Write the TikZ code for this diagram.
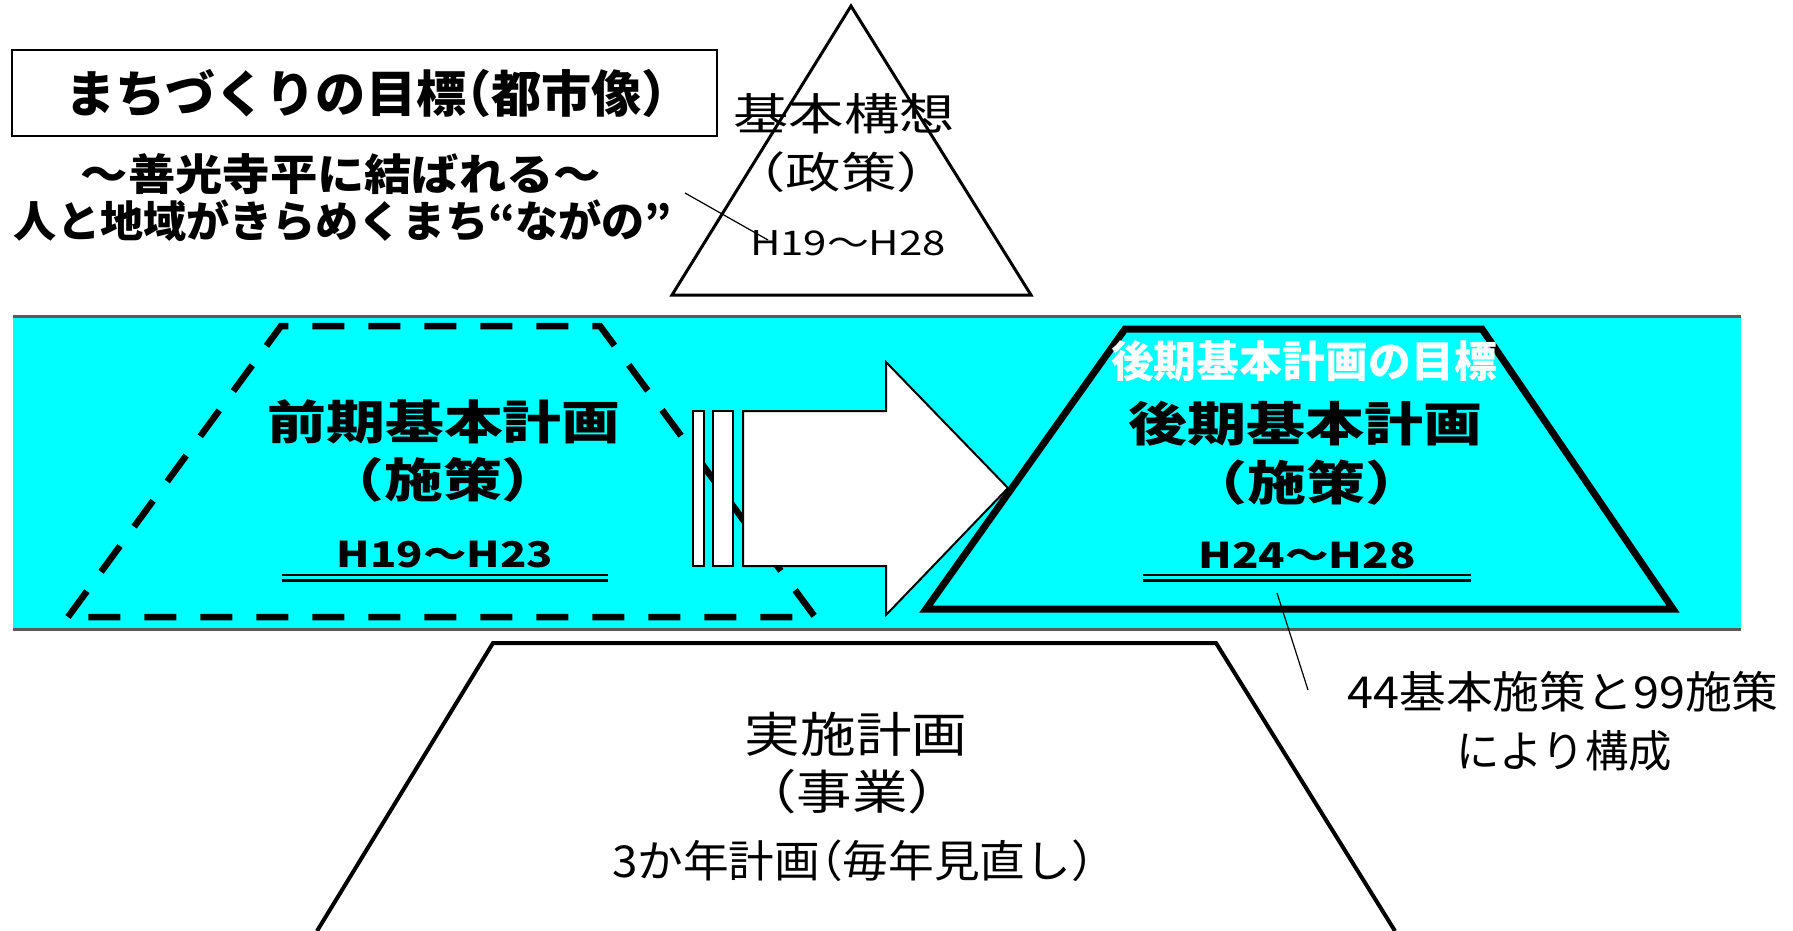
\documentclass[tikz,border=0pt]{standalone}
\usepackage{fontspec}
\setmainfont{Noto Sans CJK JP}
\definecolor{bandc}{RGB}{0,255,255}
\definecolor{bordc}{RGB}{90,90,90}
\newcommand{\tsc}[3]{\fontsize{#1}{#1}\selectfont\scalebox{#2}[1]{#3}}
\newcommand{\tfw}[3]{\fontsize{#1}{#1}\selectfont\resizebox{#2pt}{\height}{#3}}
\newcommand{\lpar}{\kern-.5em（}
\newcommand{\rpar}{）\kern-.5em}
\tikzset{
  txt/.style={inner sep=0pt, outer sep=0pt, anchor=center},
  thinline/.style={line width=1.2pt, black},
  bandline/.style={line width=2.5pt, bordc},
  dashtrap/.style={line width=6.5pt, dash pattern=on 32pt off 24pt, line join=miter},
  boldtrap/.style={line width=7pt, line join=miter},
  whitebox/.style={draw=black, fill=white, line width=2pt},
  dblline/.style={line width=2.5pt}
}
\begin{document}
\begin{tikzpicture}[x=1pt, y=-1pt]
\useasboundingbox (0,0) rectangle (1793,930);

% --- top title box ---
\draw[line width=2pt] (12,50) rectangle (717,136);
\node[txt, font=\bfseries] (title) at (366,93) {\tfw{50}{602}{まちづくりの目標\lpar 都市像\rpar}};
\node[txt, font=\bfseries] (sub1) at (341,174) {\tsc{43}{1.10}{～善光寺平に結ばれる～}};
\node[txt, font=\bfseries] (sub2) at (343,221) {\tfw{43}{658}{人と地域がきらめくまち“ながの”}};

% --- triangle (basic concept) ---
\draw[line width=3pt, line join=miter] (851,6) -- (1031,295) -- (672,295) -- cycle;
\node[txt] (kihon) at (844,114) {\tsc{44}{1.26}{基本構想}};
\node[txt] (seisaku) at (841,172) {\tsc{43}{1.29}{（政策）}};
\node[txt] (h1928) at (848,243) {\tfw{34}{196}{H19～H28}};
\coordinate (c1a) at (685,193);
\coordinate (c1b) at (768,240);
\draw[thinline] (c1a) -- (c1b);

% --- cyan band ---
\fill[bandc] (13,317) rectangle (1741,629);
\draw[bandline] (13,316.5) -- (1741,316.5);
\draw[bandline] (13,629.5) -- (1741,629.5);

% --- dashed trapezoid (first plan) ---
\draw[dashtrap] (68,617) -- (281,326) -- (600,326) -- (815,617) -- cycle;

% --- bold trapezoid (second plan) ---
\draw[boldtrap] (926,609) -- (1125,329) -- (1482,329) -- (1673,609) -- cycle;

% --- bars and arrow ---
\draw[whitebox] (693,411) rectangle (704,566);
\draw[whitebox] (713,411) rectangle (733,566);
\draw[whitebox, line join=miter] (743,411) -- (886,411) -- (886,362) -- (1008,488) -- (886,615) -- (886,566) -- (743,566) -- cycle;

% --- first plan texts ---
\node[txt, font=\bfseries] (zenki) at (444,422) {\tfw{46.5}{353}{前期基本計画}};
\node[txt, font=\bfseries] (shisaku1) at (443,480) {\tsc{46.5}{1.265}{（施策）}};
\node[txt, font=\bfseries] (h1923) at (445,555) {\tfw{35.5}{216}{H19～H23}};
\draw[dblline] (282,575) -- (608,575);
\draw[dblline] (282,580.5) -- (608,580.5);

% --- second plan texts ---
\node[txt, font=\bfseries, text=white] (goal) at (1304,361) {\tfw{43}{386}{後期基本計画の目標}};
\node[txt, font=\bfseries] (kouki) at (1305,424) {\tfw{47}{354}{後期基本計画}};
\node[txt, font=\bfseries] (shisaku2) at (1306,483) {\tsc{47}{1.255}{（施策）}};
\node[txt, font=\bfseries] (h2428) at (1307,556) {\tfw{35.5}{217}{H24～H28}};
\draw[dblline] (1143,575) -- (1471,575);
\draw[dblline] (1143,580.5) -- (1471,580.5);

% --- callout ---
\coordinate (c2a) at (1277,593);
\coordinate (c2b) at (1308,690);
\draw[thinline] (c2a) -- (c2b);
\node[txt] (note1) at (1563,692) {\tfw{44}{431}{44基本施策と99施策}};
\node[txt] (note2) at (1564,751) {\tfw{44}{216}{により構成}};

% --- bottom trapezoid (implementation) ---
\draw[line width=4pt, line join=miter] (317,931) -- (493,643) -- (1216,643) -- (1395,931);
\node[txt] (jisshi) at (856,734) {\tsc{48}{1.16}{実施計画}};
\node[txt] (jigyo) at (852,792) {\tsc{47}{1.18}{（事業）}};
\node[txt] (sannen) at (853,861) {\tfw{44}{482}{3か年計画\lpar 毎年見直し\rpar}};
\end{tikzpicture}
\end{document}
